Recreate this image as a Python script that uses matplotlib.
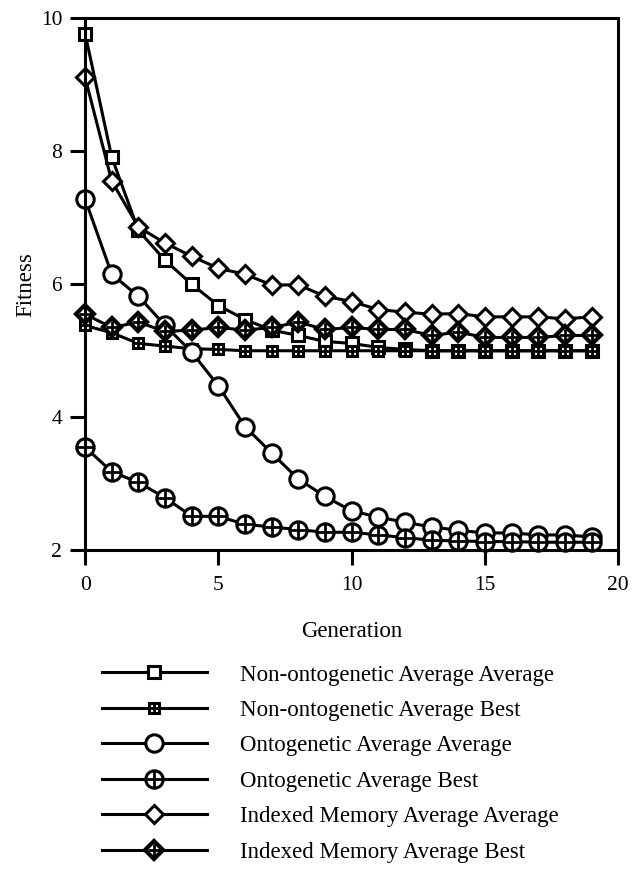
import matplotlib.pyplot as plt
from matplotlib.lines import Line2D
from matplotlib.legend_handler import HandlerTuple

plt.rcParams['font.family'] = ['Liberation Serif', 'DejaVu Serif']

generation = list(range(20))

non_onto_avg_avg = [9.77, 7.91, 6.81, 6.36, 6.0, 5.68, 5.47, 5.31, 5.23, 5.14,
                    5.11, 5.05, 5.02, 5.0, 5.0, 5.0, 5.0, 5.0, 5.0, 5.0]
non_onto_avg_best = [5.38, 5.27, 5.11, 5.07, 5.03, 5.02, 5.0, 5.0, 5.0, 5.0,
                     5.0, 5.0, 5.0, 5.0, 5.0, 5.0, 5.0, 5.0, 5.0, 5.0]
onto_avg_avg = [7.28, 6.15, 5.82, 5.38, 4.98, 4.47, 3.86, 3.46, 3.07, 2.81,
                2.59, 2.50, 2.42, 2.35, 2.30, 2.26, 2.26, 2.23, 2.23, 2.20]
onto_avg_best = [3.55, 3.18, 3.02, 2.79, 2.51, 2.51, 2.39, 2.35, 2.31, 2.27,
                 2.27, 2.23, 2.19, 2.15, 2.14, 2.13, 2.13, 2.12, 2.12, 2.12]
idx_avg_avg = [9.11, 7.55, 6.86, 6.62, 6.42, 6.24, 6.15, 5.99, 5.99, 5.82,
               5.74, 5.62, 5.58, 5.55, 5.56, 5.51, 5.51, 5.51, 5.48, 5.51]
idx_avg_best = [5.55, 5.35, 5.43, 5.29, 5.31, 5.35, 5.31, 5.35, 5.43, 5.32,
                5.35, 5.32, 5.32, 5.23, 5.28, 5.2, 5.2, 5.2, 5.23, 5.23]

labels = ['Non-ontogenetic Average Average', 'Non-ontogenetic Average Best',
          'Ontogenetic Average Average', 'Ontogenetic Average Best',
          'Indexed Memory Average Average', 'Indexed Memory Average Best']

lw = 2.2
fig = plt.figure(figsize=(6.4, 8.72), dpi=100)
ax = fig.add_axes([0.133, 0.369, 0.833, 0.61])

# (data, marker, size, plus size, edge width)
series = [
    (non_onto_avg_avg, 's', 9, 0, lw),
    (non_onto_avg_best, 's', 7, 7, lw),
    (onto_avg_avg, 'o', 12.5, 0, lw),
    (onto_avg_best, 'o', 12.5, 12.5, lw),
    (idx_avg_avg, 'D', 9.5, 0, lw),
    (idx_avg_best, 'D', 9.5, 8.5, 3.0),
]

handles = []
for data, m, ms, ps, ew in series:
    ax.plot(generation, data, color='black', lw=lw, marker=m, ms=ms,
            mfc='white', mec='black', mew=ew, clip_on=False)
    h = Line2D([], [], color='black', lw=lw, marker=m, ms=ms,
               mfc='white', mec='black', mew=ew)
    if ps:
        ax.plot(generation, data, ls='none', marker='+', ms=ps, mec='black',
                mew=lw * 0.9, clip_on=False)
        hp = Line2D([], [], ls='none', marker='+', ms=ps, mec='black', mew=lw * 0.9)
        handles.append((h, hp))
    else:
        handles.append(h)

ax.set_xlim(0, 20)
ax.set_ylim(2, 10)
ax.set_xticks([0, 5, 10, 15, 20])
ax.set_yticks([2, 4, 6, 8, 10])
for s in ax.spines.values():
    s.set_linewidth(lw)
ax.tick_params(direction='out', length=10.5, width=lw, labelsize=15.5)
ax.tick_params(axis='x', pad=8)
ax.tick_params(axis='y', pad=6)
ax.set_xlabel('Generation', fontsize=16.5, labelpad=19)
ax.set_ylabel('Fitness', fontsize=16.5, labelpad=3)

fig.legend(handles, labels, loc='upper left', bbox_to_anchor=(0.159, 0.238),
           frameon=False, fontsize=16.5, handlelength=4.6, handletextpad=1.44,
           labelspacing=0.63, borderpad=0, borderaxespad=0,
           handler_map={tuple: HandlerTuple(ndivide=1, pad=0)})

fig.savefig('out.png', dpi=100)
